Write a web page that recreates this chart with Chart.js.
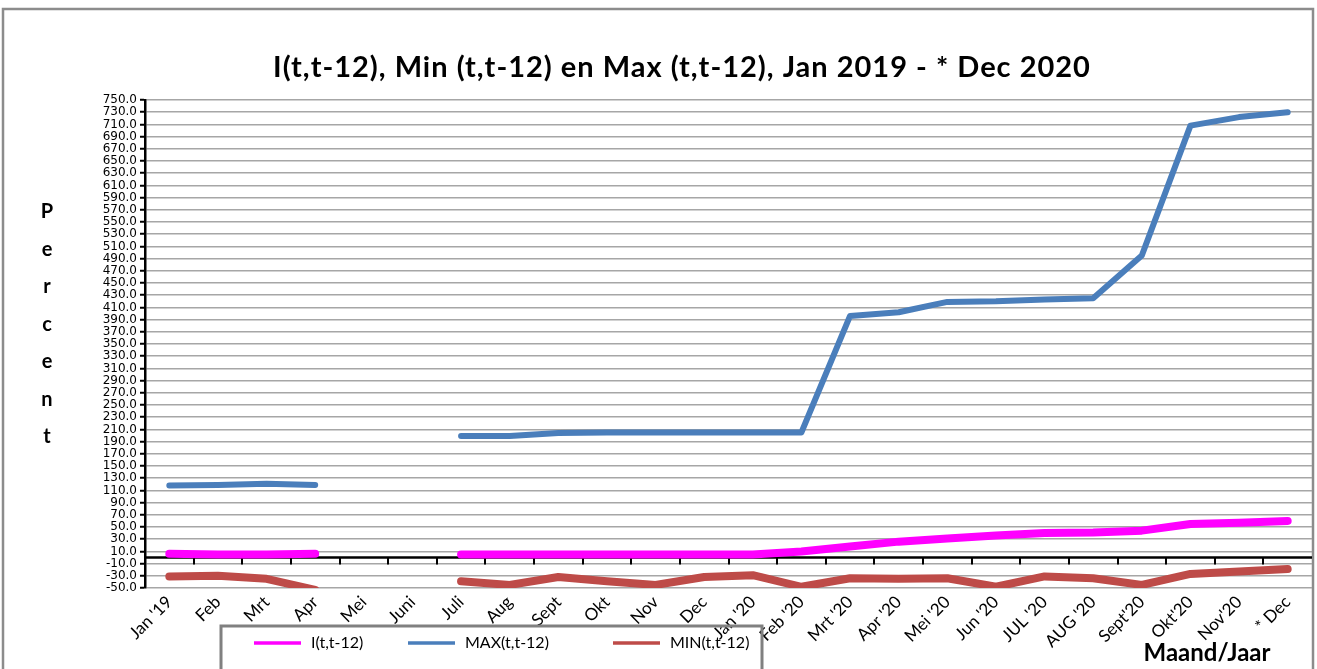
<!DOCTYPE html>
<html>
<head>
<meta charset="utf-8">
<script src="https://cdn.jsdelivr.net/npm/chart.js@4/dist/chart.umd.min.js"></script>
<style>
html,body{margin:0;padding:0;background:#fff;}
#wrap{position:relative;width:1317px;height:669px;overflow:hidden;}
canvas{display:block;}
</style>
</head>
<body>
<div id="wrap"><canvas id="c" width="1317" height="669"></canvas></div>
<script>
// ---- data ----
const categories = ["Jan '19","Feb","Mrt","Apr","Mei","Juni","Juli","Aug","Sept","Okt","Nov","Dec",
  "Jan '20","Feb '20","Mrt '20","Apr '20","Mei '20","Jun '20","JUL '20","AUG '20","Sept'20","Okt'20","Nov'20","* Dec"];
const seriesI   = [6, 5, 5, 6, null, null, 5, 5, 5, 5, 5, 5, 5, 10, 18, 26, 31, 36, 40, 41, 44, 55, 57, 60];
const seriesMax = [118, 119, 121, 119, null, null, 199, 199, 204, 205, 205, 205, 205, 205, 396, 402, 419, 420, 423, 425, 495, 708, 722, 730];
const seriesMin = [-31, -30, -35, -53, null, null, -39, -45, -32, -39, -45, -32, -29, -48, -34, -35, -34, -48, -31, -34, -45, -27, -23, -19];
const yTickValues = [-50,-30,-10,10,30,50,70,90,110,130,150,170,190,210,230,250,270,290,310,330,350,
  370,390,410,430,450,470,490,510,530,550,570,590,610,630,650,670,690,710,730,750];
const seriesLabels = ["I(t,t-12)", "MAX(t,t-12)", "MIN(t,t-12)"];
const titleText = "I(t,t-12), Min (t,t-12) en Max (t,t-12), Jan 2019 - * Dec 2020";
const yAxisTitle = "Percent";
const xAxisTitle = "Maand/Jaar";

const FONT = "Lato, 'Open Sans', sans-serif";

const decor = {
  id: 'decor',
  beforeDraw(chart) {
    const ctx = chart.ctx;
    ctx.save();
    ctx.fillStyle = '#fff';
    ctx.fillRect(0, 0, chart.width, chart.height);
    ctx.strokeStyle = '#8c8c8c';
    ctx.lineWidth = 2.5;
    ctx.strokeRect(3, 9, 1310, 720);
    ctx.restore();
  },
  beforeDatasetsDraw(chart) {
    const ctx = chart.ctx;
    const xs = chart.scales.x, ys = chart.scales.y;
    const y0 = ys.getPixelForValue(0);
    ctx.save();
    ctx.strokeStyle = '#000';
    ctx.lineWidth = 2.5;
    ctx.beginPath();
    ctx.moveTo(chart.chartArea.left, y0);
    ctx.lineTo(chart.chartArea.right, y0);
    ctx.stroke();
    ctx.lineWidth = 2;
    ctx.beginPath();
    for (let i = 1; i < categories.length; i++) {
      const x = Math.round(xs.getPixelForValue(i - 0.5));
      ctx.moveTo(x, y0);
      ctx.lineTo(x, y0 + 7);
    }
    ctx.stroke();
    ctx.restore();
  },
  afterDraw(chart) {
    const ctx = chart.ctx;
    ctx.save();
    ctx.fillStyle = '#000';
    // title
    ctx.font = "bold 29px " + FONT;
    if ('letterSpacing' in ctx) ctx.letterSpacing = '1px';
    ctx.textAlign = 'center';
    ctx.textBaseline = 'middle';
    ctx.fillText(titleText, 682, 68);
    if ('letterSpacing' in ctx) ctx.letterSpacing = '0px';
    // y axis title (stacked letters)
    ctx.font = "bold 20px " + FONT;
    const ys0 = 212, step = 37.5;
    for (let i = 0; i < yAxisTitle.length; i++) {
      ctx.fillText(yAxisTitle[i], 47, ys0 + i * step);
    }
    // x axis title
    ctx.font = "bold 24px " + FONT;
    ctx.fillText(xAxisTitle, 1207, 653);
    // legend
    ctx.strokeStyle = '#808080';
    ctx.lineWidth = 3;
    ctx.strokeRect(221, 626, 541, 60);
    const itemX = [254, 408, 613];
    ctx.font = "16px " + FONT;
    ctx.textAlign = 'left';
    chart.data.datasets.forEach((ds, i) => {
      ctx.strokeStyle = ds.borderColor;
      ctx.lineWidth = 3.5;
      ctx.beginPath();
      ctx.moveTo(itemX[i], 643);
      ctx.lineTo(itemX[i] + 47, 643);
      ctx.stroke();
      ctx.fillStyle = '#000';
      ctx.fillText(ds.label, itemX[i] + 57, 643);
    });
    ctx.restore();
  }
};

new Chart(document.getElementById('c'), {
  type: 'line',
  data: {
    labels: categories,
    datasets: [
      { label: seriesLabels[0], data: seriesI, borderColor: '#ff00ff', borderWidth: 8 },
      { label: seriesLabels[1], data: seriesMax, borderColor: '#4a7ebb', borderWidth: 6 },
      { label: seriesLabels[2], data: seriesMin, borderColor: '#be4b48', borderWidth: 8 }
    ].map(d => Object.assign(d, {
      pointRadius: 0, pointHoverRadius: 0, tension: 0, spanGaps: false, fill: false,
      borderCapStyle: 'round', borderJoinStyle: 'round',
      clip: {left: 10, right: 10, top: 10, bottom: 0}
    }))
  },
  options: {
    responsive: false,
    animation: false,
    devicePixelRatio: 1,
    layout: { padding: { left: 0, right: 5, top: 100, bottom: 0 } },
    plugins: { legend: { display: false }, title: { display: false }, tooltip: { enabled: false } },
    scales: {
      x: {
        type: 'category',
        offset: true,
        grid: { display: false, drawTicks: false, tickLength: 0 },
        border: { display: false },
        ticks: {
          autoSkip: false, maxRotation: 45, minRotation: 45, padding: 4,
          color: '#000', font: { family: FONT, size: 17 }
        },
        afterFit(scale) { scale.height = 81; }
      },
      y: {
        min: -50, max: 750,
        afterBuildTicks(scale) { scale.ticks = yTickValues.map(v => ({ value: v })); },
        grid: { color: '#a6a6a6', lineWidth: 1.5, tickColor: '#000', tickLength: 5, tickWidth: 2 },
        border: { color: '#000', width: 2.5 },
        ticks: {
          autoSkip: false, padding: 3, color: '#000',
          font: { family: "'DejaVu Sans', sans-serif", size: 12 },
          callback: (v) => Number(v).toFixed(1)
        },
        afterFit(scale) { scale.width = 145; }
      }
    }
  },
  plugins: [decor]
});
</script>
</body>
</html>
